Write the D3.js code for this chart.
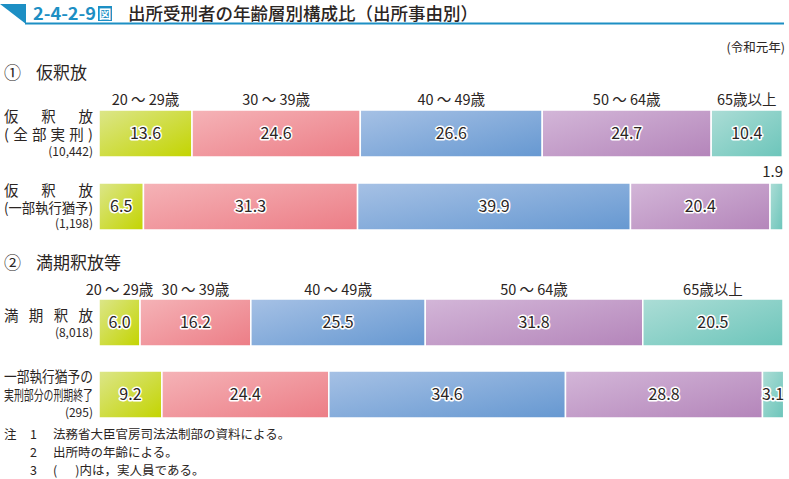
<!DOCTYPE html>
<html><head><meta charset="utf-8">
<script src="https://cdn.jsdelivr.net/npm/d3@7"></script>
<style>
body{margin:0;background:#fff;}
text{font-family:"Noto Sans CJK JP","Noto Sans",sans-serif;}
</style></head>
<body><svg id="c" width="789" height="479"></svg>
<script>
const ageGroups = ["20 ～ 29歳","30 ～ 39歳","40 ～ 49歳","50 ～ 64歳","65歳以上"];
const rowNames = ["仮釈放（全部実刑）","仮釈放（一部執行猶予）","満期釈放","一部執行猶予の実刑部分の刑期終了"];
const rowCounts = ["(10,442)","(1,198)","(8,018)","(295)"];
const v20 = [13.6, 6.5, 6.0, 9.2];
const v30 = [24.6, 31.3, 16.2, 24.4];
const v40 = [26.6, 39.9, 25.5, 34.6];
const v50 = [24.7, 20.4, 31.8, 28.8];
const v65 = [10.4, 1.9, 20.5, 3.1];
const series = [v20, v30, v40, v50, v65];

const svg = d3.select("#c");
const ink = "#2b2523";
const colors = [["#dce68a","#c3d400"],["#f5b3b7","#ec7d86"],["#a6c1e5","#6698d1"],["#d3b6d8","#b485ba"],["#acddd6","#6cc5ba"]];
const defs = svg.append("defs");
colors.forEach((c,i)=>{
  const g = defs.append("linearGradient").attr("id","g"+i).attr("x1",0).attr("y1",0).attr("x2",1).attr("y2",1);
  g.append("stop").attr("offset","0%").attr("stop-color",c[0]);
  g.append("stop").attr("offset","100%").attr("stop-color",c[1]);
});

// Title
svg.append("path").attr("d","M0,4 L26,4 L26,24 Z").attr("fill","#1d8fc4");
svg.append("line").attr("x1",25).attr("x2",784).attr("y1",23.5).attr("y2",23.5).attr("stroke","#1d8fc4").attr("stroke-width",2);
svg.append("text").attr("x",33).attr("y",20).attr("font-size",17).attr("font-weight",700).attr("fill","#1d8fc4")
  .attr("textLength",63).attr("lengthAdjust","spacingAndGlyphs").text("2-4-2-9");
svg.append("rect").attr("x",98).attr("y",6).attr("width",14).attr("height",15).attr("fill","#1d8fc4");
svg.append("text").attr("x",105).attr("y",18.5).attr("text-anchor","middle").attr("font-size",12.5).attr("font-weight",700).attr("fill","#fff").text("図");
svg.append("text").attr("x",128).attr("y",20).attr("font-size",17.5).attr("font-weight",500).attr("fill",ink).text("出所受刑者の年齢層別構成比（出所事由別）");
svg.append("text").attr("x",785).attr("y",52).attr("text-anchor","end").attr("font-size",12.5).attr("fill",ink).text("(令和元年)");

// Section headers
svg.append("text").attr("x",4).attr("y",79).attr("font-size",17).attr("fill",ink).text("①");
svg.append("text").attr("x",36).attr("y",79).attr("font-size",17).attr("fill",ink).text("仮釈放");
svg.append("text").attr("x",4).attr("y",269).attr("font-size",17).attr("fill",ink).text("②");
svg.append("text").attr("x",36).attr("y",269).attr("font-size",17).attr("fill",ink).text("満期釈放等");

const x = d3.scaleLinear().domain([0,100]).range([99,783]);
const barTops = [110, 183, 299, 371];
const barH = 47;

rowNames.forEach((name,r)=>{
  let cum = 0;
  series.forEach((s,i)=>{
    const v = s[r];
    const x0 = x(cum), x1 = x(cum+v);
    svg.append("rect").attr("x",x0).attr("y",barTops[r]).attr("width",x1-x0).attr("height",barH)
      .attr("fill",`url(#g${i})`).attr("stroke","#fff").attr("stroke-width",1.5);
    const cx = (x0+x1)/2;
    if (v < 2.5 && r===1) {
      svg.append("text").attr("x",783).attr("y",barTops[r]-6).attr("text-anchor","end").attr("font-size",15).attr("fill",ink).text(v.toFixed(1));
    } else {
      svg.append("text").attr("x",cx).attr("y",barTops[r]+barH/2+5.5).attr("text-anchor","middle")
        .attr("font-size",16).attr("fill",ink).attr("stroke","#fff").attr("stroke-width",3).attr("stroke-linejoin","round")
        .attr("paint-order","stroke").text(v.toFixed(1));
    }
    cum += v;
  });
});

// Age group headers (above bar 1 and bar 3)
[[0,105],[2,295]].forEach(([r,y])=>{
  let cum = 0;
  series.forEach((s,i)=>{
    const v = s[r];
    svg.append("text").attr("x",x(cum+v/2)).attr("y",y).attr("text-anchor","middle").attr("font-size",14.5).attr("fill",ink).text(ageGroups[i]);
    cum += v;
  });
});

// Row labels
function just(t,y,size){
  svg.append("text").attr("x",4).attr("y",y).attr("font-size",size||15).attr("fill",ink)
    .attr("textLength",89).attr("lengthAdjust","spacing").text(t);
}
function squeeze(t,y,size){
  const g = svg.append("g");
  const tx = g.append("text").attr("x",0).attr("y",0).attr("font-size",size).attr("fill",ink).text(t);
  const w = tx.node().getComputedTextLength();
  g.attr("transform",`translate(4,${y}) scale(${89/w},1)`);
}
function cnt(t,y){
  svg.append("text").attr("x",93).attr("y",y).attr("text-anchor","end").attr("font-size",12).attr("fill",ink).text(t);
}
just("仮釈放",122,14.5); just("(全部実刑)",140,14.5); cnt(rowCounts[0],156);
just("仮釈放",196,14.5); squeeze("(一部執行猶予)",213,14); cnt(rowCounts[1],228);
just("満期釈放",321,14.5); cnt(rowCounts[2],337);
squeeze("一部執行猶予の",382,14.5); squeeze("実刑部分の刑期終了",400,13.5); cnt(rowCounts[3],417);

// Notes
const notes = [["注","1","法務省大臣官房司法法制部の資料による。"],["","2","出所時の年齢による。"],["","3","(　  )内は，実人員である。"]];
notes.forEach((n,i)=>{
  const y = 439 + i*18;
  svg.append("text").attr("x",4).attr("y",y).attr("font-size",12.5).attr("fill",ink).text(n[0]);
  svg.append("text").attr("x",30).attr("y",y).attr("font-size",12.5).attr("fill",ink).text(n[1]);
  svg.append("text").attr("x",53).attr("y",y).attr("font-size",12.5).attr("fill",ink).attr("xml:space","preserve").style("white-space","pre").text(n[2]);
});
</script></body></html>
